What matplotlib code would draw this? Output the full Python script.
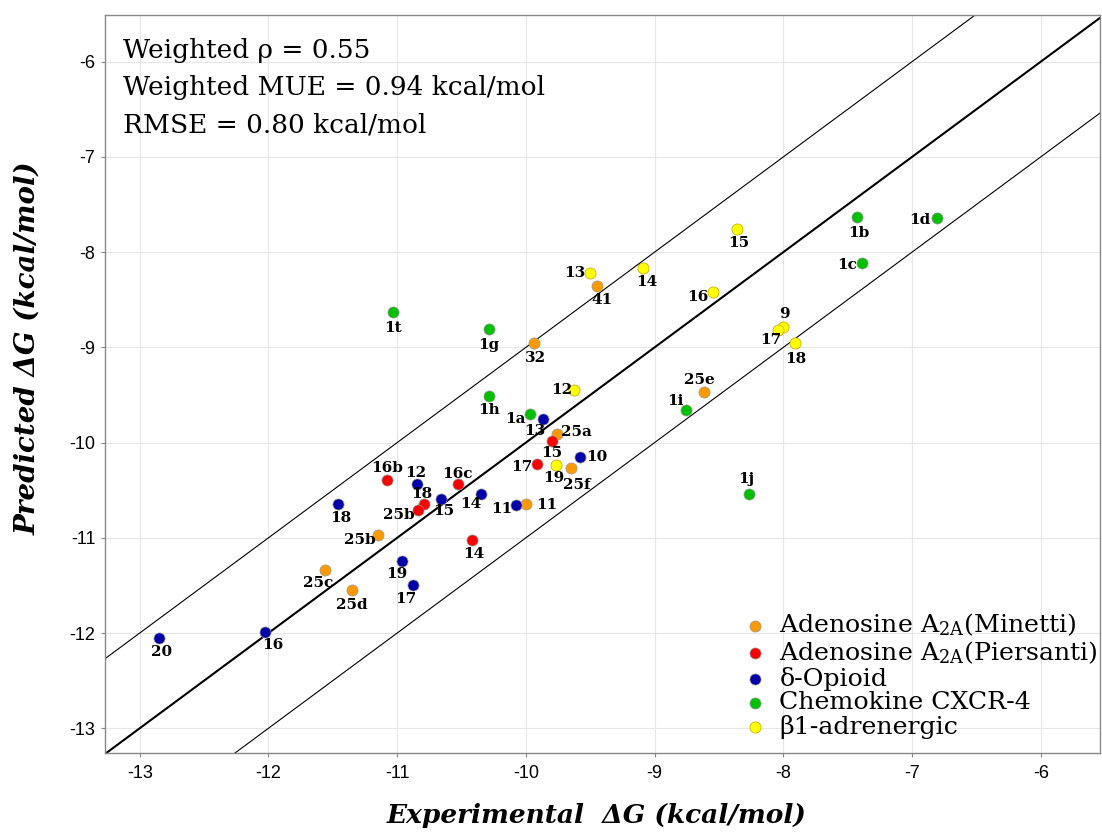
import numpy as np
import matplotlib
matplotlib.use('Agg')
from matplotlib import pyplot as plt

# Adenosine A2A (Minetti)
minetti_ids = ['41', '32', '25e', '25a', '25f', '11', '25b', '25c', '25d']
minetti_exp = [-9.45, -9.94, -8.62, -9.76, -9.65, -10.00, -11.15, -11.56, -11.35]
minetti_pred = [-8.36, -8.95, -9.47, -9.91, -10.27, -10.65, -10.97, -11.34, -11.55]

# Adenosine A2A (Piersanti)
piersanti_ids = ['15', '17', '16b', '16c', '18', '25b', '14']
piersanti_exp = [-9.80, -9.91, -11.08, -10.53, -10.79, -10.84, -10.42]
piersanti_pred = [-9.98, -10.22, -10.39, -10.44, -10.65, -10.71, -11.02]

# delta-Opioid
opioid_ids = ['13', '10', '12', '15', '14', '11', '18', '19', '17', '20', '16']
opioid_exp = [-9.87, -9.58, -10.85, -10.66, -10.35, -10.08, -11.46, -10.96, -10.88, -12.85, -12.03]
opioid_pred = [-9.75, -10.15, -10.43, -10.59, -10.54, -10.66, -10.65, -11.24, -11.50, -12.05, -11.99]

# Chemokine CXCR-4
cxcr4_ids = ['1t', '1g', '1h', '1a', '1i', '1j', '1b', '1d', '1c']
cxcr4_exp = [-11.03, -10.29, -10.29, -9.97, -8.76, -8.27, -7.43, -6.81, -7.39]
cxcr4_pred = [-8.63, -8.81, -9.51, -9.70, -9.66, -10.54, -7.63, -7.64, -8.11]

# beta1-adrenergic
beta1_ids = ['13', '14', '15', '16', '9', '17', '18', '12', '19']
beta1_exp = [-9.50, -9.09, -8.36, -8.55, -8.00, -8.04, -7.91, -9.63, -9.77]
beta1_pred = [-8.22, -8.17, -7.76, -8.42, -8.79, -8.82, -8.95, -9.45, -10.24]

stats_lines = ['Weighted \u03c1 = 0.55',
               'Weighted MUE = 0.94 kcal/mol',
               'RMSE = 0.80 kcal/mol']

# label placement (pixel offsets from the marker)
minetti_off = [(5, -14), (2, -15), (-4, 12), (20, 2), (6, -17), (21, -1), (-18, -5), (-7, -13), (0, -15)]
piersanti_off = [(0, -12), (-16, -3), (0, 12), (0, 10), (-2, 10), (-19, -5), (2, -14)]
opioid_off = [(-8, -12), (17, 0), (-1, 11), (3, -12), (-10, -10), (-14, -4), (3, -14), (-6, -13), (-7, -14), (3, -14), (8, -13)]
cxcr4_off = [(0, -16), (0, -16), (0, -14), (-14, -5), (-10, 9), (-2, 15), (2, -16), (-17, -2), (-15, -2)]
beta1_off = [(-15, 0), (4, -14), (2, -14), (-15, -5), (1, 13), (-7, -10), (1, -16), (-12, 0), (-2, -13)]

series = [
    (r'Adenosine A$_{\mathregular{2A}}$(Minetti)', minetti_ids, minetti_exp, minetti_pred, minetti_off, '#FF9900'),
    (r'Adenosine A$_{\mathregular{2A}}$(Piersanti)', piersanti_ids, piersanti_exp, piersanti_pred, piersanti_off, '#FF0000'),
    ('\u03b4-Opioid', opioid_ids, opioid_exp, opioid_pred, opioid_off, '#0000AA'),
    ('Chemokine CXCR-4', cxcr4_ids, cxcr4_exp, cxcr4_pred, cxcr4_off, '#00C000'),
    ('\u03b21-adrenergic', beta1_ids, beta1_exp, beta1_pred, beta1_off, '#FFFF00'),
]

plt.rcParams['axes.unicode_minus'] = False
plt.rcParams['mathtext.fontset'] = 'dejavuserif'

fig = plt.figure(figsize=(11.02, 8.33), dpi=100)
ax = fig.add_axes([105/1102, 80/833, 995/1102, 738/833])

xlim = (-13.27, -5.54)
ylim = (-13.26, -5.51)
ax.set_xlim(xlim)
ax.set_ylim(ylim)

# diagonal and +/- 1 kcal/mol lines
xx = np.array([-14.5, -4.5])
ax.plot(xx, xx, color='black', lw=1.5, zorder=2)
ax.plot(xx, xx + 1, color='black', lw=0.8, zorder=2)
ax.plot(xx, xx - 1, color='black', lw=0.8, zorder=2)

for name, ids, ex, pr, off, col in series:
    edge = '#C8A000' if col == '#FFFF00' else '#999999'
    ax.scatter(ex, pr, s=64, color=col, edgecolors=edge, linewidths=0.5,
               zorder=3, label=name)
    for lab, x, y, (dx, dy) in zip(ids, ex, pr, off):
        ax.annotate(lab, (x, y), xytext=(dx, dy), textcoords='offset pixels',
                    ha='center', va='center', fontsize=11, fontweight='bold',
                    family='DejaVu Serif', zorder=4)

ax.set_xticks(np.arange(-13, -5, 1))
ax.set_yticks(np.arange(-13, -5, 1))
ax.grid(True, color='#E6E6E6', lw=0.8, zorder=0)
ax.set_axisbelow(True)
ax.tick_params(labelsize=13, length=3, color='#888888')
ax.tick_params(axis='x', pad=6)
ax.tick_params(axis='y', pad=4)
for lab in ax.get_xticklabels() + ax.get_yticklabels():
    lab.set_family('Liberation Sans')
for sp in ax.spines.values():
    sp.set_color('#888888')
    sp.set_linewidth(1.0)

for i, line in enumerate(stats_lines):
    ax.text(0.018, 0.952 - i * 0.0508, line, transform=ax.transAxes,
            fontsize=19, family='DejaVu Serif', va='center', ha='left')

leg = ax.legend(loc='lower right', bbox_to_anchor=(1.012, 0.0), frameon=False,
                prop={'family': 'DejaVu Serif', 'size': 18.2},
                labelspacing=0.03, handletextpad=0.15, markerscale=1.0,
                borderaxespad=0.15, handlelength=1.6)

fig.text(597/1102, 1 - 816/833, 'Experimental  \u0394G (kcal/mol)', ha='center', va='center',
         fontsize=19, fontweight='bold', style='italic', family='DejaVu Serif')
fig.text(28/1102, 1 - 348/833, 'Predicted \u0394G (kcal/mol)', ha='center', va='center',
         rotation=90, fontsize=20, fontweight='bold', style='italic', family='DejaVu Serif')

fig.savefig('out.png', dpi=100)
